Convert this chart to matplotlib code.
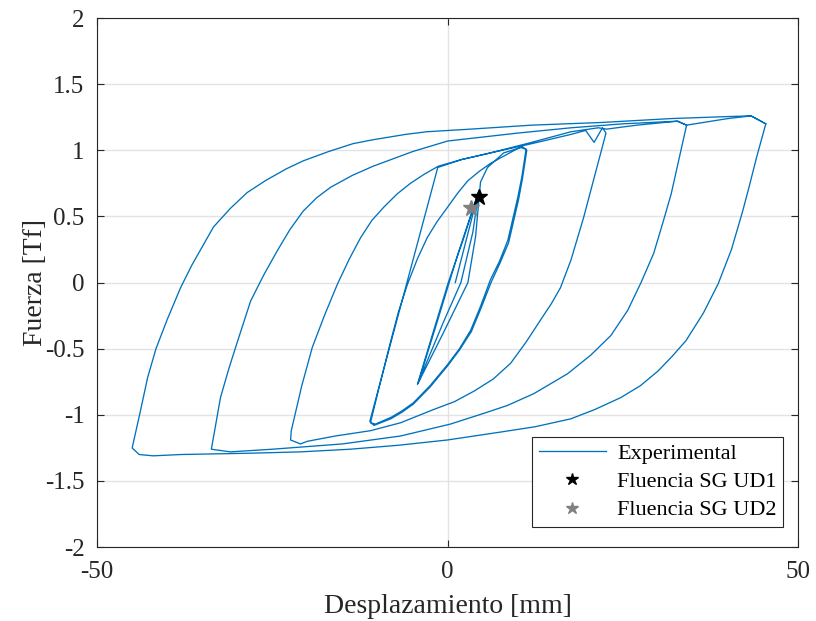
import numpy as np
import matplotlib
matplotlib.use("Agg")
import matplotlib.pyplot as plt

plt.rcParams['font.family'] = ['Liberation Serif', 'DejaVu Serif']
plt.rcParams['axes.unicode_minus'] = False

# ciclos pequeños (+-4 mm)
c4_x = [1.1, 2.8, 4.4, 2.2, 0.1, -2.2, -4.3, -0.6, 1.9, 3.6, 4.5, 1.5, -1.5, -4.2, -0.6, 2.9, 4.0, 4.7, 5.7, 8.0]
c4_y = [0.00, 0.35, 0.68, 0.32, 0.00, -0.40, -0.77, -0.30, 0.00, 0.38, 0.70, 0.22, -0.30, -0.76, -0.38, 0.00, 0.35, 0.76, 0.87, 0.98]

# ciclos +-11 mm
c11_x = [10.4, 11.2, 10.6, 10.0, 8.6, 7.4, 6.1, 4.7, 3.3, 1.7, 0.0, -2.5, -4.9, -6.5, -8.1, -10.3, -11.0,
         -10.4, -9.8, -8.1, -7.0, -5.7, -4.3, -2.9, -1.5, 0.0, 1.5, 2.9, 4.5, 6.1, 8.5, 10.6,
         11.3, 10.7, 10.1, 8.7, 7.5, 6.2, 4.8, 3.4, 1.7, 0.0, -2.5, -4.9, -6.5, -8.1, -10.5, -11.1]
c11_y = [1.02, 1.01, 0.80, 0.64, 0.32, 0.16, 0.02, -0.18, -0.36, -0.50, -0.62, -0.78, -0.91, -0.97, -1.02, -1.07, -1.06,
         -0.93, -0.80, -0.44, -0.22, -0.01, 0.18, 0.34, 0.46, 0.57, 0.68, 0.77, 0.84, 0.90, 0.97, 1.03,
         1.00, 0.79, 0.62, 0.30, 0.15, 0.00, -0.19, -0.37, -0.51, -0.63, -0.79, -0.92, -0.98, -1.03, -1.08, -1.05]

# ciclos +-22 mm
c22_x = [-5.7, -1.4, 2.0, 6.1, 12.0, 17.6, 19.7, 20.9, 22.1, 22.6, 20.9, 19.4, 17.6, 16.1, 14.8, 13.3, 11.2, 9.0, 6.5,
         3.8, 1.0, -2.0, -6.7, -11.0, -16.0, -20.0, -21.0, -22.4, -22.3, -20.8, -19.3, -17.5, -15.7, -14.0, -12.4,
         -10.8, -9.1, -7.2, -5.3, -3.3, -1.3, 2.0, 6.1, 12.0, 17.6, 21.5, 22.7]
c22_y = [0.02, 0.87, 0.93, 0.98, 1.05, 1.12, 1.15, 1.06, 1.17, 1.13, 0.79, 0.49, 0.17, -0.04, -0.16, -0.28, -0.45, -0.61, -0.73,
         -0.82, -0.90, -0.96, -1.06, -1.12, -1.16, -1.20, -1.22, -1.19, -1.12, -0.78, -0.49, -0.24, -0.01, 0.18, 0.34,
         0.47, 0.57, 0.67, 0.75, 0.82, 0.88, 0.93, 0.98, 1.06, 1.14, 1.17, 1.16]

# ciclos +-34 mm
c34_x = [27.0, 32.8, 34.1, 33.0, 31.9, 30.7, 29.4, 27.6, 25.7, 23.3, 20.4, 17.1, 12.3, 8.5, 5.1, 0.4, -6.7, -15.0,
         -25.0, -31.0, -33.7, -33.6, -33.0, -32.4, -31.2, -30.0, -28.1, -26.2, -24.3, -22.5, -20.6, -18.7, -16.7,
         -13.6, -10.6, -5.0, 0.0, 3.3, 10.0, 17.6, 25.0, 32.8, 34.1]
c34_y = [1.19, 1.22, 1.19, 0.93, 0.67, 0.45, 0.22, 0.00, -0.21, -0.40, -0.55, -0.69, -0.84, -0.93, -0.99, -1.07, -1.16, -1.22,
         -1.26, -1.28, -1.26, -1.23, -1.05, -0.87, -0.65, -0.45, -0.14, 0.06, 0.24, 0.40, 0.54, 0.64, 0.72,
         0.81, 0.88, 0.99, 1.07, 1.09, 1.13, 1.17, 1.20, 1.22, 1.19]

# ciclo +-45 mm
c45_x = [40.0, 43.3, 45.4, 44.1, 43.0, 42.1, 40.5, 38.6, 36.5, 34.0, 32.0, 30.0, 27.5, 24.7, 21.0, 17.6, 12.5, 7.6, 0.0,
         -7.0, -13.9, -21.0, -28.0, -38.0, -42.0, -44.0, -45.0, -43.9, -42.8, -41.6, -40.0, -38.1, -36.5, -35.0,
         -33.4, -31.0, -28.6, -26.0, -23.0, -20.6, -17.0, -13.5, -10.6, -6.0, -3.0, 3.3, 12.0, 21.9, 32.0, 40.0,
         43.3, 45.4]
c45_y = [1.24, 1.26, 1.20, 0.95, 0.72, 0.54, 0.25, -0.01, -0.23, -0.44, -0.56, -0.67, -0.78, -0.87, -0.96, -1.03, -1.09, -1.13, -1.19,
         -1.23, -1.26, -1.28, -1.29, -1.30, -1.31, -1.30, -1.25, -0.99, -0.72, -0.50, -0.28, -0.04, 0.13, 0.27,
         0.42, 0.56, 0.68, 0.77, 0.86, 0.92, 0.99, 1.05, 1.08, 1.12, 1.14, 1.16, 1.19, 1.21, 1.24, 1.255,
         1.26, 1.20]

# puntos de fluencia
fluencia_ud1 = (4.5, 0.65)
fluencia_ud2 = (3.4, 0.56)

xticks = [-50, 0, 50]
yticks = [-2, -1.5, -1, -0.5, 0, 0.5, 1, 1.5, 2]
yticklabels = ['-2', '-1.5', '-1', '-0.5', '0', '0.5', '1', '1.5', '2']

desp = np.concatenate([c4_x, c11_x, c22_x, c34_x, c45_x])
fuerza = np.concatenate([c4_y, c11_y, c22_y, c34_y, c45_y])

fig = plt.figure(figsize=(8.16, 6.21), dpi=100)
ax = fig.add_axes([0.119, 0.119, 0.859, 0.852])

ax.plot(desp, fuerza, color='#0072BD', lw=0.95, label='Experimental')
ax.plot(*fluencia_ud1, 'k*', ms=12, label='Fluencia SG UD1', zorder=5)
ax.plot(*fluencia_ud2, '*', color='#808080', ms=12, label='Fluencia SG UD2', zorder=4)

ax.set_xlim(-50, 50)
ax.set_ylim(-2, 2)
ax.set_xticks(xticks)
ax.set_xticklabels([str(v) for v in xticks])
ax.set_yticks(yticks)
ax.set_yticklabels(yticklabels)
ax.grid(True, color='#e3e3e3', lw=1.0)
ax.set_axisbelow(True)
ax.tick_params(direction='in', length=5, width=0.8, colors='#262626', labelsize=18,
               top=True, right=True)
ax.tick_params(axis='x', pad=10)
ax.tick_params(axis='y', pad=9)
for s in ax.spines.values():
    s.set_color('#262626')
    s.set_linewidth(0.8)

ax.set_xlabel('Desplazamiento [mm]', fontsize=20, color='#262626', labelpad=8)
ax.set_ylabel('Fuerza [Tf]', fontsize=20, color='#262626', labelpad=-2)

leg = ax.legend(loc='lower right', bbox_to_anchor=(0.9786, 0.0378), borderaxespad=0,
                fontsize=16, fancybox=False, framealpha=1, edgecolor='#262626',
                handlelength=3.0, handletextpad=0.5, labelspacing=0.35, borderpad=0.3,
                markerscale=0.75)
leg.get_frame().set_linewidth(0.8)

fig.savefig('out.png', dpi=100)
